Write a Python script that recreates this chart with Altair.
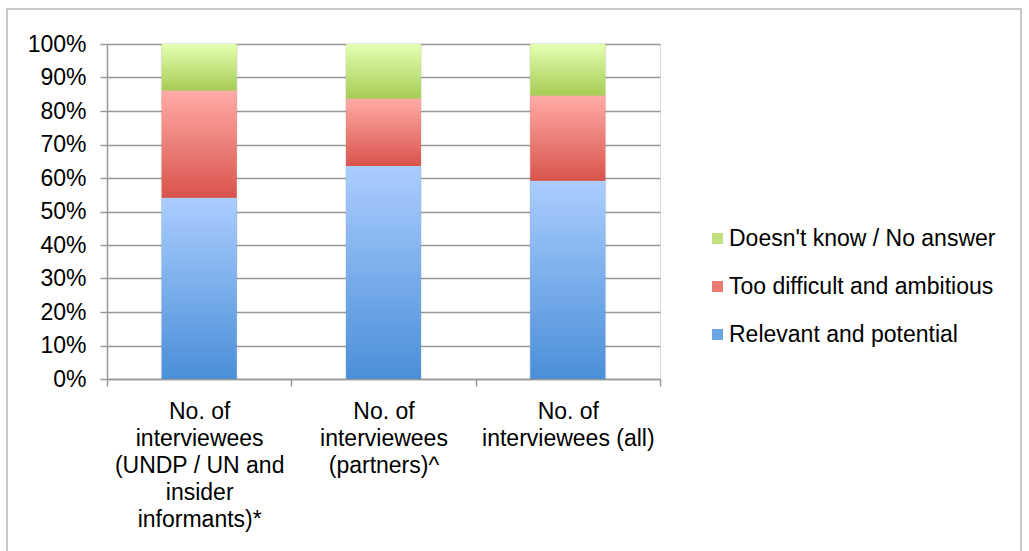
import altair as alt
import pandas as pd

# Interview groups shown on the x axis
groups = [
    "No. of interviewees (UNDP / UN and insider informants)*",
    "No. of interviewees (partners)^",
    "No. of interviewees (all)",
]
# Wrapped axis labels for each group
group_lines = [
    ["No. of", "interviewees", "(UNDP / UN and", "insider", "informants)*"],
    ["No. of", "interviewees", "(partners)^"],
    ["No. of", "interviewees (all)"],
]

# Response categories, bottom to top of each stack
responses = [
    "Relevant and potential",
    "Too difficult and ambitious",
    "Doesn't know / No answer",
]
# Share of answers (%) per group, same order as responses
relevant = [54.1, 63.6, 59.2]
too_difficult = [32.0, 20.1, 25.4]
dont_know = [13.9, 16.3, 15.4]

# Gradient stops (bottom colour, top colour) and legend colour per response
grad_bottom = ["#4a8fd8", "#d9544b", "#a6cd55"]
grad_top = ["#abcdff", "#ffaba6", "#e4ffb2"]
legend_colors = ["#6aa5e6", "#eb7a72", "#c2e07e"]

# y-axis ticks every 10 %
y_ticks = [0.0, 0.1, 0.2, 0.3, 0.4, 0.5, 0.6, 0.7, 0.8, 0.9, 1.0]

series = [relevant, too_difficult, dont_know]
rows = []
for gi, g in enumerate(groups):
    base = 0.0
    for ri, r in enumerate(responses):
        v = series[ri][gi]
        rows.append({"group": g, "response": r, "order": ri,
                     "start": base / 100, "end": (base + v) / 100})
        base += v
df = pd.DataFrame(rows)

label_expr = " : ".join(
    f"datum.label == '{g}' ? {lines!r}" for g, lines in zip(groups, group_lines)
) + " : datum.label"

FONT = "Liberation Sans"
FS = 23
W, H = 553, 335
LEFT, TOP = 107, 44

x_enc = alt.X(
    "group:N", sort=groups, title=None,
    scale=alt.Scale(paddingInner=0, paddingOuter=0),
    axis=alt.Axis(
        labelExpr=label_expr, labelAngle=0, labelAlign="center",
        labelBaseline="top", labelFont=FONT,
        labelFontSize=FS, labelColor="#000", labelLineHeight=27,
        labelPadding=14, tickBand="extent", tickSize=7, tickColor="#999",
        tickWidth=1.5, domainColor="#999", domainWidth=1.5, grid=False,
        labelLimit=400, labelOverlap=False,
    ),
)
y_enc = alt.Y(
    "start:Q", title=None,
    scale=alt.Scale(domain=[0, 1], nice=False),
    axis=alt.Axis(
        format=".0%", values=y_ticks, tickCount=11,
        labelFont=FONT, labelFontSize=FS, labelColor="#000",
        labelPadding=14, tickSize=7, tickColor="#999", tickWidth=1.5,
        domainColor="#999", domainWidth=1.5, gridColor="#999",
        gridWidth=1.5, labelOverlap=False,
    ),
)

# Solid stacked bars carrying the legend (top response first)
base_bars = alt.Chart(df).mark_bar(width=alt.RelativeBandSize(0.406)).encode(
    x=x_enc,
    y=y_enc,
    y2="end:Q",
    color=alt.Color(
        "response:N",
        scale=alt.Scale(domain=responses[::-1], range=legend_colors[::-1]),
        legend=alt.Legend(
            title=None, orient="none", legendX=599, legendY=183,
            labelFont=FONT, labelFontSize=FS, labelColor="#000",
            labelLimit=400, symbolType="square", symbolSize=121,
            symbolStrokeWidth=0, rowPadding=24, labelOffset=0,
        ),
    ),
)

# Soft shadow around each bar
shadow = alt.Chart(df).mark_bar(
    width=alt.RelativeBandSize(0.418), color="#000", opacity=0.07
).encode(x=x_enc, y=y_enc, y2="end:Q")

# Vertical gradient fill per segment
grad_layers = []
for ri, r in enumerate(responses):
    grad = alt.Gradient(
        gradient="linear", x1=0, y1=1, x2=0, y2=0,
        stops=[alt.GradientStop(color=grad_bottom[ri], offset=0),
               alt.GradientStop(color=grad_top[ri], offset=1)],
    )
    grad_layers.append(
        alt.Chart(df).transform_filter(alt.datum.response == r)
        .mark_bar(width=alt.RelativeBandSize(0.406), color=grad)
        .encode(x=x_enc, y=y_enc, y2="end:Q")
    )

# Outer frame around the whole figure
frame = alt.Chart(pd.DataFrame({"k": [0]})).mark_rect(
    fill=None, stroke="#b8b8b8", strokeWidth=1.5
).encode(
    x=alt.value(7 - LEFT), x2=alt.value(1021 - LEFT),
    y=alt.value(9 - TOP), y2=alt.value(600 - TOP),
)

chart = alt.layer(base_bars, shadow, *grad_layers, frame).properties(
    width=W, height=H,
    autosize=alt.AutoSizeParams(type="none"),
    padding={"left": LEFT, "top": TOP, "right": 1029 - LEFT - W,
             "bottom": 551 - TOP - H},
).configure_view(stroke=None).configure(background="white")

chart.save("out.html", embed_options={"renderer": "svg", "actions": False})
